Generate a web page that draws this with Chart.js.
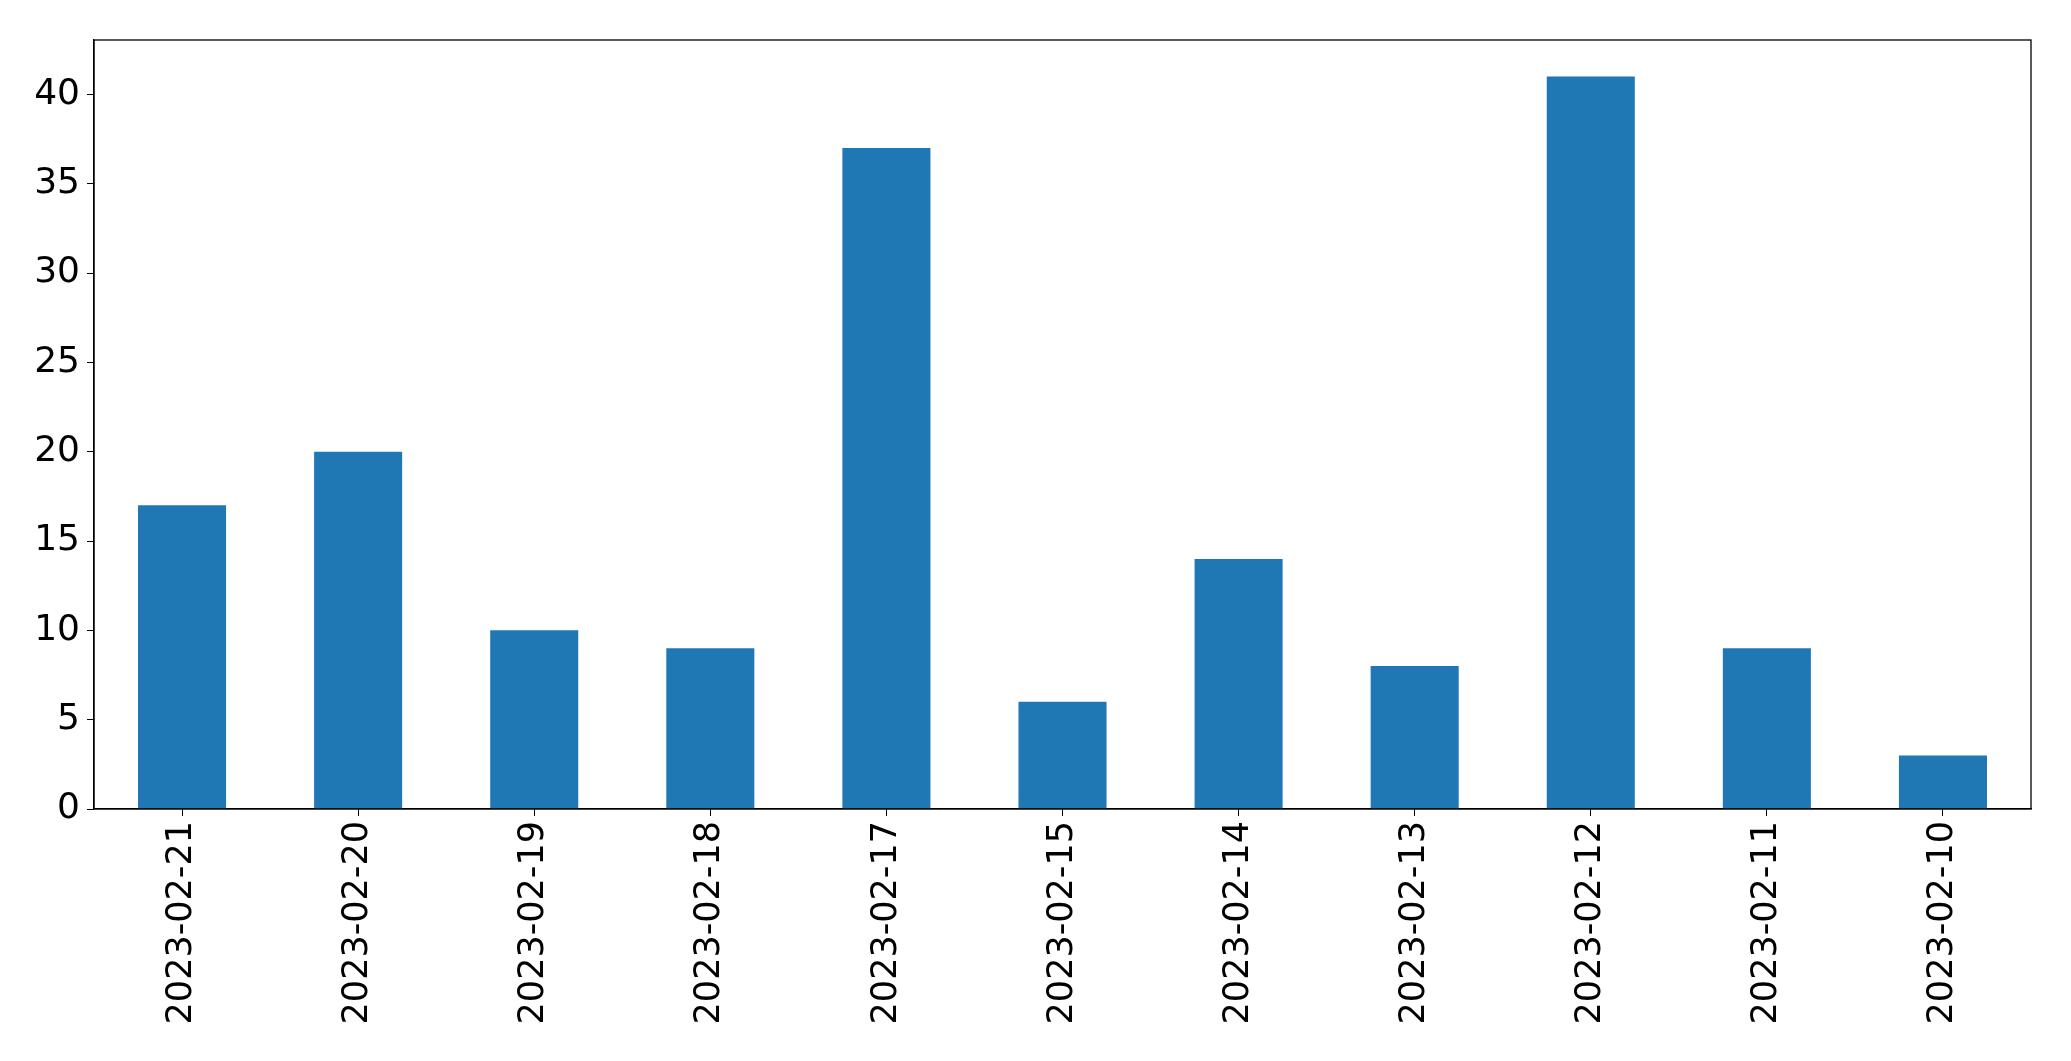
<!DOCTYPE html>
<html>
<head>
<meta charset="utf-8">
<script src="https://cdn.jsdelivr.net/npm/chart.js@4"></script>
<style>
  html, body { margin: 0; padding: 0; background: #fff; }
  #wrap { width: 2071px; height: 1061px; }
</style>
</head>
<body>
<div id="wrap"><canvas id="chart"></canvas></div>
<script>
// data
const dates = ["2023-02-21", "2023-02-20", "2023-02-19", "2023-02-18", "2023-02-17", "2023-02-15",
    "2023-02-14", "2023-02-13", "2023-02-12", "2023-02-11", "2023-02-10"];
const counts = [17, 20, 10, 9, 37, 6, 14, 8, 41, 9, 3];
const yMax = 43.05;

Chart.defaults.font.family = "'DejaVu Sans', sans-serif";
Chart.defaults.color = "#000";

// draw the full box round the plot
const frame = {
    id: "frame",
    afterDraw(chart) {
        const a = chart.chartArea;
        const ctx = chart.ctx;
        ctx.save();
        ctx.strokeStyle = "#000";
        ctx.lineWidth = 1.3;
        ctx.strokeRect(a.left, a.top, a.right - a.left, a.bottom - a.top);
        ctx.restore();
    }
};

new Chart(document.getElementById("chart"), {
    type: "bar",
    data: {
        labels: dates,
        datasets: [{
            data: counts,
            backgroundColor: "#1f77b4",
            barPercentage: 0.5,
            categoryPercentage: 1.0
        }]
    },
    options: {
        responsive: true,
        maintainAspectRatio: false,
        animation: false,
        layout: { padding: { top: 40, right: 40, left: 0, bottom: 0 } },
        plugins: { legend: { display: false }, tooltip: { enabled: false } },
        scales: {
            x: {
                grid: { drawOnChartArea: false, offset: false, color: "#000", tickLength: 7 },
                border: { color: "#000", width: 1.3 },
                ticks: { font: { size: 35 }, maxRotation: 90, minRotation: 90, padding: 5, autoSkip: false },
                afterFit: (scale) => { scale.height = 252; }
            },
            y: {
                min: 0,
                max: yMax,
                grid: { drawOnChartArea: false, color: "#000", tickLength: 7 },
                border: { color: "#000", width: 1.3 },
                ticks: { font: { size: 36 }, stepSize: 5, padding: 7 },
                afterBuildTicks: (scale) => { scale.ticks = scale.ticks.filter(t => t.value % 5 === 0); },
                afterFit: (scale) => { scale.width = 94; }
            }
        }
    },
    plugins: [frame]
});
</script>
</body>
</html>
